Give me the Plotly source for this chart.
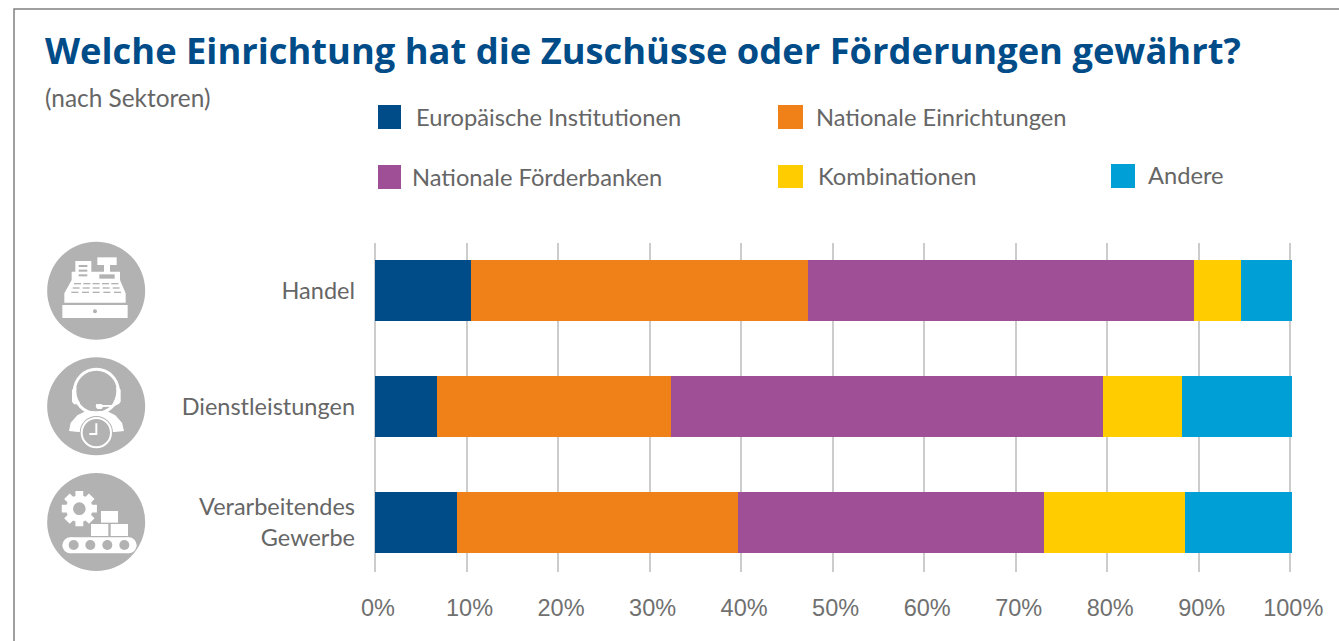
import math
import plotly.graph_objects as go

W, H = 1339, 641

categories = ["Handel", "Dienstleistungen", "Verarbeitendes<br>Gewerbe"]
series_names = ["Europäische Institutionen", "Nationale Einrichtungen",
                "Nationale Förderbanken", "Kombinationen", "Andere"]
europaeisch = [10.5, 6.8, 9.0]
national = [36.8, 25.5, 30.7]
foerderbanken = [42.2, 47.2, 33.4]
kombinationen = [5.1, 8.7, 15.4]
andere = [5.6, 12.0, 11.7]
tick_values = [0, 10, 20, 30, 40, 50, 60, 70, 80, 90, 100]
tick_labels = ["0%", "10%", "20%", "30%", "40%", "50%", "60%", "70%", "80%", "90%", "100%"]

colors = ["#004C88", "#F08119", "#9E4F96", "#FFCC00", "#009FD6"]
TEXT = "#666666"
ICON = "#B2B2B2"
FONT = "Lato"


def px(x):
    return x / W


def py(y):
    return 1 - y / H


def zx(x):  # icon sketch coordinates
    return px(x / 3)


def zy(y):
    return py(230 + y / 3)


def path(points, close=True):
    s = "M" + " L".join(f"{zx(a):.5f},{zy(b):.5f}" for a, b in points)
    return s + (" Z" if close else "")


shapes = []


def paper(**k):
    d = dict(xref="paper", yref="paper", line=dict(width=0), layer="above")
    d.update(k)
    shapes.append(d)


def zrect(x0, y0, x1, y1, color="white"):
    paper(type="rect", x0=zx(x0), x1=zx(x1), y0=zy(y1), y1=zy(y0), fillcolor=color)


def zcircle(cx, cy, r, color="white", line=None, lw=0):
    k = dict(type="circle", x0=zx(cx - r), x1=zx(cx + r), y0=zy(cy + r), y1=zy(cy - r))
    if color is None:
        k["fillcolor"] = "rgba(0,0,0,0)"
    else:
        k["fillcolor"] = color
    k["line"] = dict(color=line or "rgba(0,0,0,0)", width=lw)
    paper(**k)


def zpoly(points, color="white"):
    paper(type="path", path=path(points), fillcolor=color)


def zline(points, color="white", lw=2):
    paper(type="path", path=path(points, close=False), line=dict(color=color, width=lw),
          fillcolor="rgba(0,0,0,0)")


# frame
paper(type="path", path=f"M{px(14):.5f},0 L{px(14):.5f},{py(9):.5f} L1,{py(9):.5f}",
      line=dict(color="#808080", width=1.5), fillcolor="rgba(0,0,0,0)", layer="below")

# icon discs
for cy in (182, 529, 876):
    zcircle(288.5, cy, 147, ICON)

# cash register
zrect(187, 225, 383, 264)
zcircle(285, 244, 6, ICON)
zpoly([(193, 218), (193, 190), (215, 150), (215, 125), (360, 125), (360, 150), (377, 190), (377, 218)])
zrect(226, 93, 274, 150)
for y in (108, 122, 136):
    zrect(236, y - 3, 262, y + 3, ICON)
zrect(292, 82, 350, 105)
zrect(312, 105, 330, 128)
zrect(298, 133, 344, 146, ICON)
for i, y in enumerate((161, 174, 187)):
    for j in range(5):
        x = 222 - i * 4 + j * (28 + i * 2)
        zrect(x, y - 2, x + 21, y + 2, ICON)

# headset person
zpoly([(207, 603), (212, 578), (232, 556), (258, 543), (320, 543), (346, 556), (366, 578), (372, 603),
       (345, 606), (235, 606)])
zcircle(289, 608, 50, ICON)
zcircle(289, 608, 44, None, "white", 2)
zline([(289, 580), (289, 612), (268, 612)], "white", 2)
zcircle(289, 484, 66, None, "white", 3)
zpoly([(216, 480), (222, 472), (240, 472), (240, 523), (222, 523), (216, 515)])
zpoly([(340, 472), (356, 472), (362, 480), (362, 515), (356, 523), (340, 523)])
zcircle(289, 484, 60, ICON)
zline([(352, 520), (340, 527), (300, 528)], "white", 2)
zpoly([(289, 522), (305, 522), (310, 529), (305, 537), (292, 537), (287, 530)])

# gear and boxes
gear = []
for i in range(8):
    a = i * math.pi / 4 - math.pi / 2
    for da, r in ((-0.30, 40), (-0.22, 54), (0.22, 54), (0.30, 40)):
        gear.append((238 + r * math.cos(a + da), 836 + r * math.sin(a + da)))
zpoly(gear)
zcircle(238, 836, 19, ICON)
zrect(303, 843, 354, 878)
zrect(273, 882, 325, 918)
zrect(332, 882, 384, 918)
zcircle(211, 946, 24)
zcircle(386, 946, 24)
zrect(211, 922, 386, 970)
for x in (221, 271, 322, 373):
    zcircle(x, 945, 15, ICON)

# legend
legend_layout = [
    (378, 401, 105, 129, 414, 117),
    (778, 803, 105, 129, 814, 117),
    (378, 401, 165, 189, 410, 177),
    (778, 803, 165, 188, 816, 176),
    (1111, 1135, 164, 188, 1146, 175),
]
annotations = []
for name, color, (x0, x1, y0, y1, tx, ty) in zip(series_names, colors, legend_layout):
    paper(type="rect", x0=px(x0), x1=px(x1), y0=py(y1), y1=py(y0), fillcolor=color)
    annotations.append(dict(text=name, x=px(tx), y=py(ty), xref="paper", yref="paper", xanchor="left",
                            yanchor="middle", showarrow=False, font=dict(family=FONT, size=23.7, color=TEXT)))

annotations.append(dict(text="(nach Sektoren)", x=px(43), y=py(98), xref="paper", yref="paper", xanchor="left",
                        yanchor="middle", showarrow=False, font=dict(family=FONT, size=24.4, color=TEXT)))

fig = go.Figure()
for name, vals, color in zip(series_names, [europaeisch, national, foerderbanken, kombinationen, andere], colors):
    fig.add_trace(go.Bar(name=name, y=categories, x=vals, orientation="h", marker=dict(color=color, line=dict(width=0))))

fig.update_layout(
    width=W, height=H, barmode="stack", bargap=0.474, showlegend=False,
    margin=dict(l=0, r=0, t=0, b=0, autoexpand=False), paper_bgcolor="white", plot_bgcolor="white",
    title=dict(text="<b>Welche Einrichtung hat die Zuschüsse oder Förderungen gewährt?</b>",
               x=px(45), xanchor="left", xref="paper", y=py(51), yanchor="middle", yref="paper",
               font=dict(family="Open Sans", size=36.3, color="#004C88")),
    xaxis=dict(domain=[px(375), px(1293)], range=[0, 100.3], tickmode="array", tickvals=tick_values,
               ticktext=tick_labels, showgrid=True, gridcolor="#CCCCCC", gridwidth=2, zeroline=True,
               zerolinecolor="#CCCCCC", zerolinewidth=2,
               showline=False, ticks="", tickfont=dict(family="Liberation Sans", size=23.5, color="#707070"),
               ticklabelstandoff=19, ticklabelshift=3, anchor="y"),
    yaxis=dict(domain=[py(572), py(243)], range=[2.427, -0.409], type="category",
               showgrid=False, zeroline=False, showline=False, ticks="", ticklabelstandoff=19,
               tickfont=dict(family=FONT, size=23.5, color=TEXT)),
    shapes=shapes, annotations=annotations,
)
fig.write_html("out.html", config=dict(displayModeBar=False),
               post_script="document.body.style.margin='0';document.documentElement.style.overflow='hidden';")
